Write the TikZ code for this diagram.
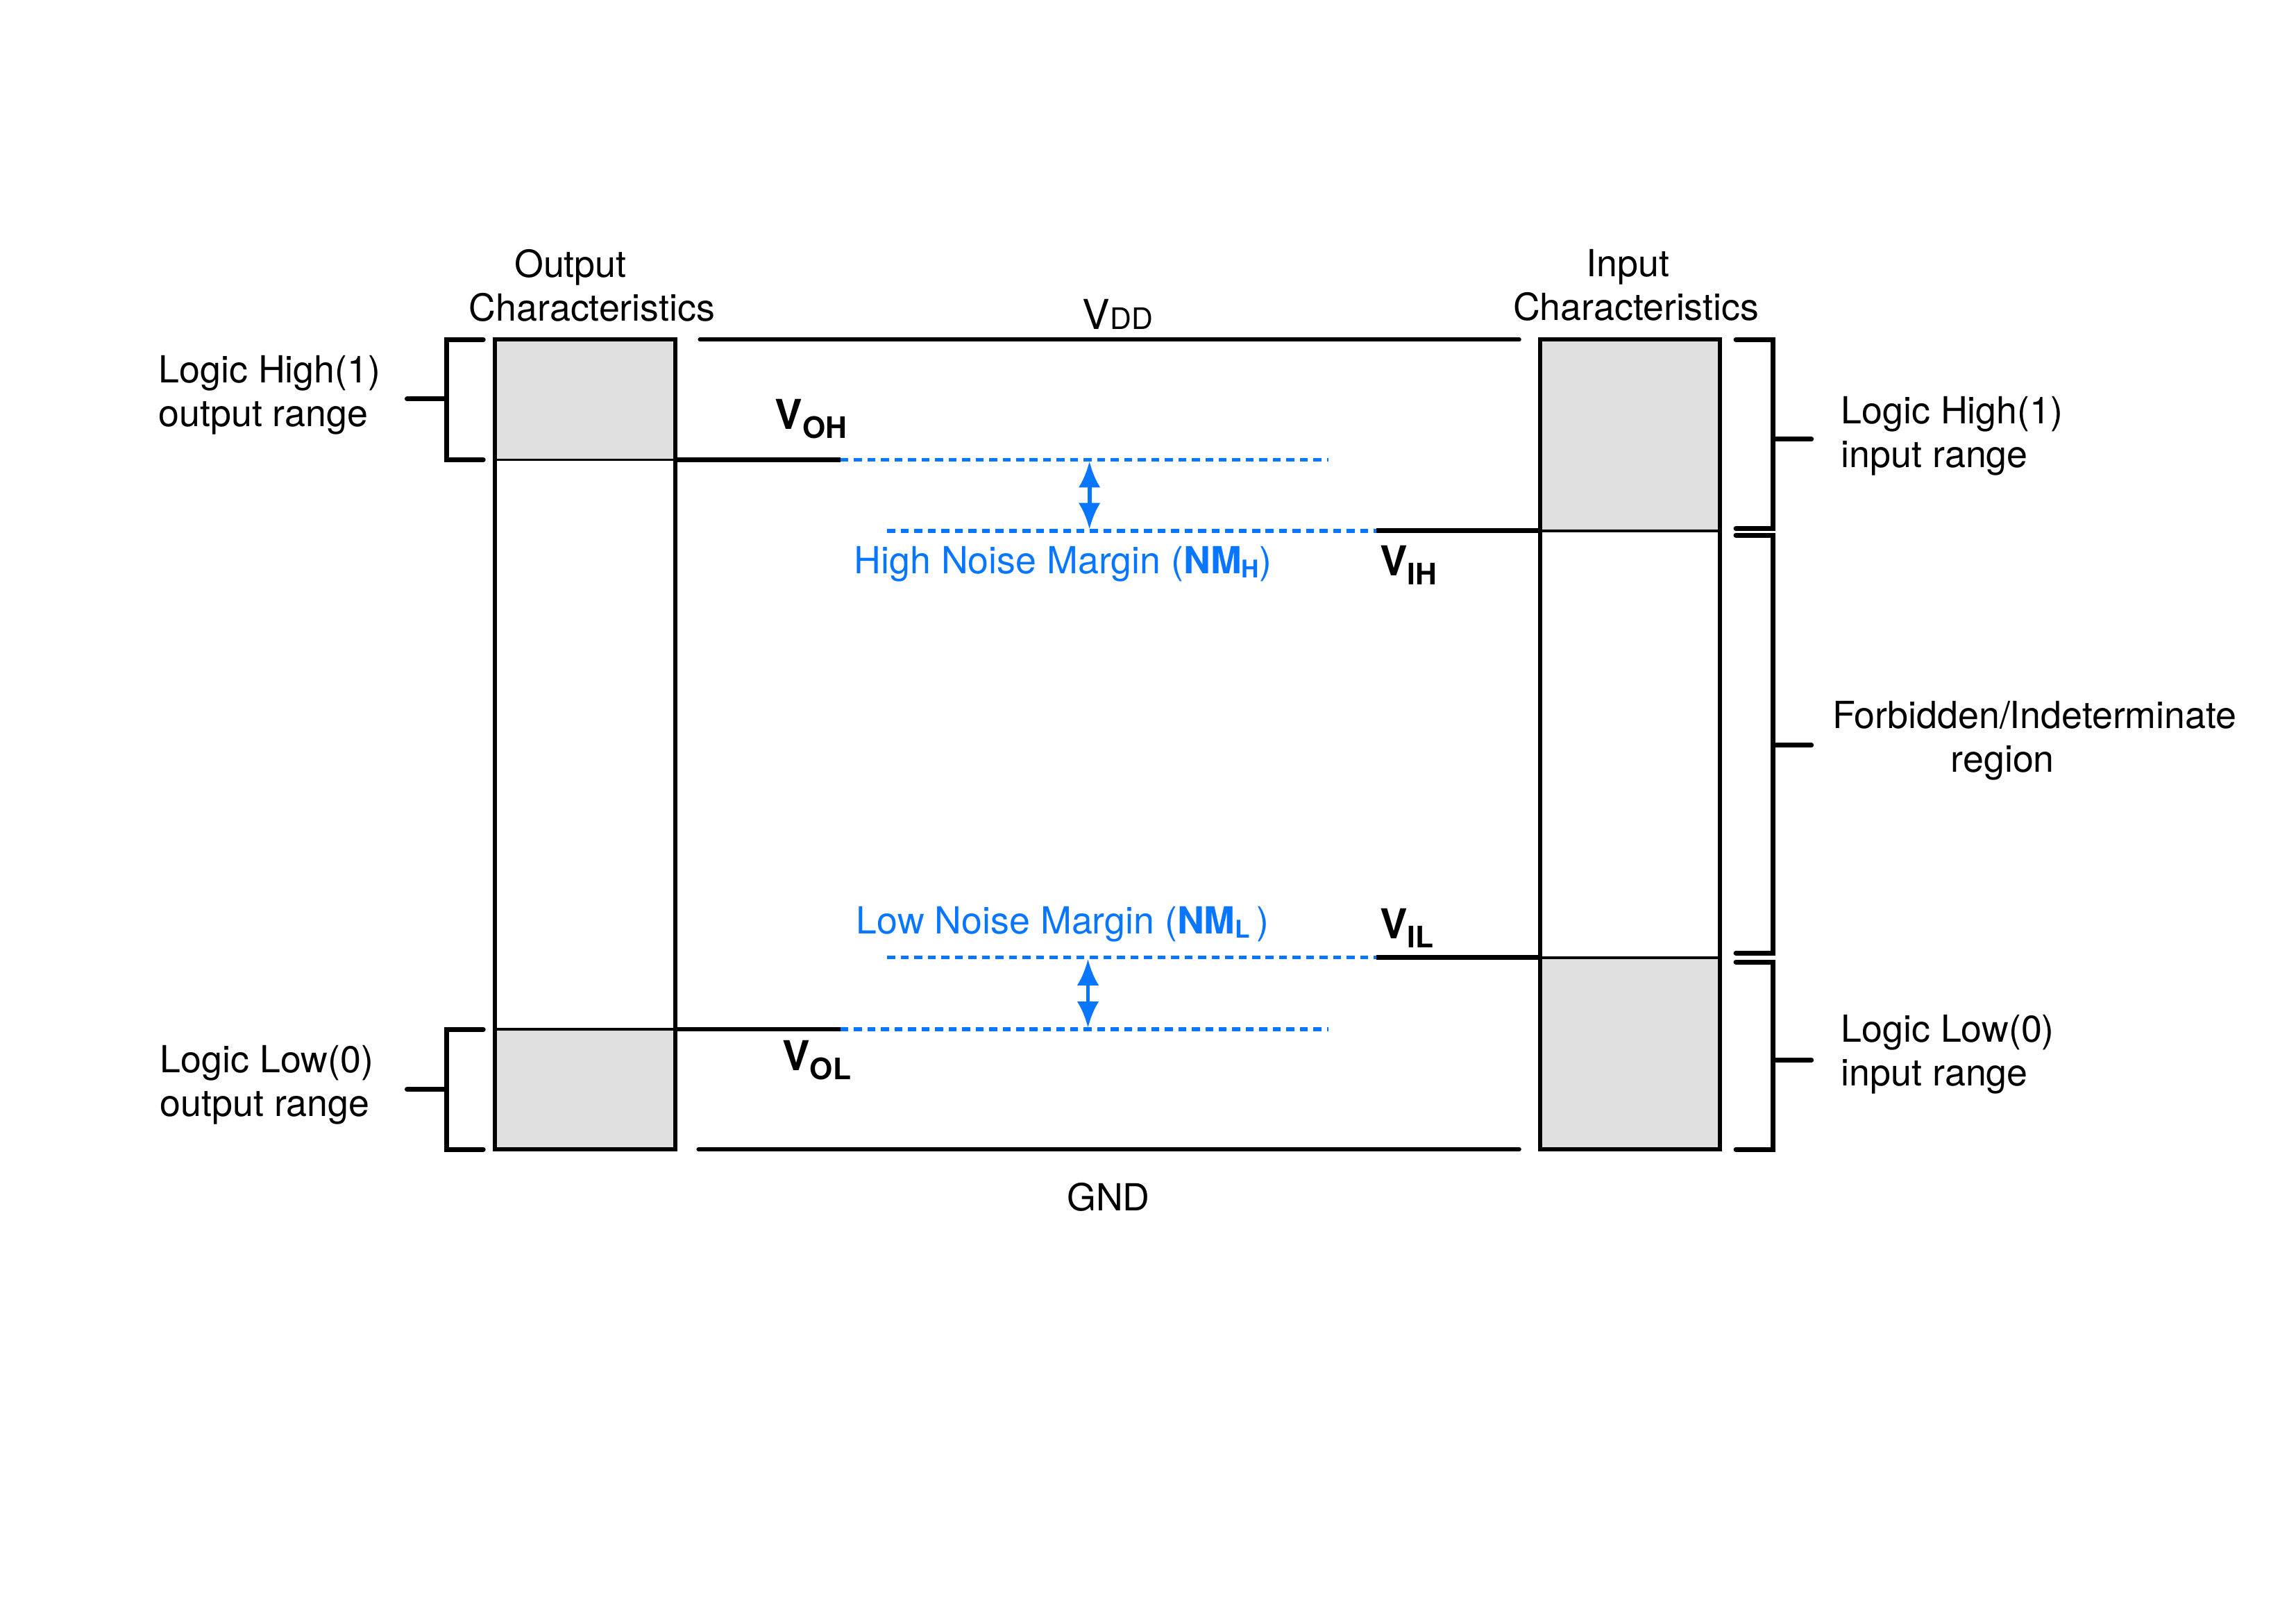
\documentclass[tikz,border=0pt]{standalone}
\usepackage{fontspec}
\setmainfont{TeX Gyre Heros}
\usetikzlibrary{arrows.meta, positioning, calc}
\definecolor{nmblue}{RGB}{8,118,255}
\definecolor{bandgray}{RGB}{224,224,224}
\newcommand{\vlev}[1]{{\fontsize{16}{18}\selectfont\bfseries V}\raisebox{-3.5pt}{\fontsize{11.5}{13}\selectfont\bfseries #1}}
\newcommand{\nmsub}[1]{\textbf{NM}\raisebox{-1.5pt}{\fontsize{9.5}{10}\selectfont\bfseries #1}}

\begin{document}
\begin{tikzpicture}[
  font=\fontsize{14.5}{17}\selectfont,
  box/.style={line width=1.6pt},
  band/.style={fill=bandgray},
  split/.style={line width=1pt},
  rail/.style={line width=1.6pt, line cap=round},
  level/.style={line width=1.8pt},
  margin/.style={nmblue, line width=1.5pt, dash pattern=on 3.1pt off 2.15pt},
  gap/.style={{Latex[length=0.36cm,width=0.3cm]}-{Latex[length=0.36cm,width=0.3cm]},
              nmblue, line width=1.6pt},
  brace/.style={line width=1.9pt, line cap=round},
  side/.style={anchor=west, align=left, inner sep=0pt},
  vlabel/.style={anchor=base west, inner sep=0pt}
]
\useasboundingbox (0,0) rectangle (31.36,22.18);

%% output and input columns
\fill[band] (6.76,17.54) rectangle (9.22,15.90);
\fill[band] (6.76,8.12)  rectangle (9.22,6.48);
\fill[band] (21.04,17.54) rectangle (23.49,14.93);
\fill[band] (21.04,9.10)  rectangle (23.49,6.48);
\draw[split] (6.76,15.90) -- (9.22,15.90);
\draw[split] (6.76,8.12) -- (9.22,8.12);
\draw[split] (21.04,14.93) -- (23.49,14.93);
\draw[split] (21.04,9.10) -- (23.49,9.10);
\draw[box] (6.76,6.48) rectangle (9.22,17.54);
\draw[box] (21.04,6.48) rectangle (23.49,17.54);

\node[side] (outchar) at (6.40,18.28) {\hspace*{0.62cm}Output\\Characteristics};
\node[side] (inchar)  at (20.66,18.28) {\hspace*{1.0cm}Input\\Characteristics};

%% supply rails
\coordinate (vddL) at (9.56,17.54);
\coordinate (vddR) at (20.75,17.54);
\coordinate (gndL) at (9.54,6.48);
\coordinate (gndR) at (20.75,6.48);
\draw[rail] (vddL) -- (vddR);
\draw[rail] (gndL) -- (gndR);
\node[vlabel] (vdd) at (14.78,17.68)
  {{\fontsize{16}{18}\selectfont V}{\fontsize{11.5}{13}\selectfont DD}};
\node[inner sep=0pt, anchor=base] (gnd) at (15.14,5.64) {GND};

%% threshold levels
\coordinate (oh)  at (9.22,15.90);
\coordinate (ohD) at (11.48,15.90);
\coordinate (ohE) at (18.14,15.90);
\coordinate (ihS) at (12.12,14.93);
\coordinate (ihD) at (18.80,14.93);
\coordinate (ih)  at (21.04,14.93);
\coordinate (ilS) at (12.12,9.10);
\coordinate (ilD) at (18.80,9.10);
\coordinate (il)  at (21.04,9.10);
\coordinate (ol)  at (9.22,8.12);
\coordinate (olD) at (11.48,8.12);
\coordinate (olE) at (18.14,8.12);

\draw[level]  (oh) -- (ohD);
\draw[margin] (ohD) -- (ohE);
\draw[margin] (ihS) -- (ihD);
\draw[level]  (ihD) -- (ih);
\draw[margin] (ilS) -- (ilD);
\draw[level]  (ilD) -- (il);
\draw[level]  (ol) -- (olD);
\draw[margin] (olD) -- (olE);

\node[vlabel] (voh) at (10.58,16.32) {\vlev{OH}};
\node[vlabel] (vih) at (18.84,14.32) {\vlev{IH}};
\node[vlabel] (vil) at (18.84,9.36)  {\vlev{IL}};
\node[vlabel] (vol) at (10.68,7.56)  {\vlev{OL}};

%% noise margins
\coordinate (nmhT) at (14.88,15.88);
\coordinate (nmhB) at (14.88,14.95);
\coordinate (nmlT) at (14.86,9.08);
\coordinate (nmlB) at (14.86,8.14);
\draw[gap] (nmhT) -- (nmhB);
\draw[gap] (nmlT) -- (nmlB);
\node[vlabel, text=nmblue] (nmh) at (11.66,14.34) {High Noise Margin (\nmsub{H})};
\node[vlabel, text=nmblue] (nml) at (11.69,9.42)  {Low Noise Margin (\nmsub{L}\,)};

%% range brackets, output side
\draw[brace] (6.60,17.54) -- (6.10,17.54) -- (6.10,15.90) -- (6.60,15.90);
\draw[brace] (6.10,16.73) -- (5.56,16.73);
\draw[brace] (6.60,8.12) -- (6.10,8.12) -- (6.10,6.48) -- (6.60,6.48);
\draw[brace] (6.10,7.30) -- (5.56,7.30);
\node[side] (ohrange) at (2.16,16.78) {Logic High(1)\\output range};
\node[side] (olrange) at (2.18,7.36)  {Logic Low(0)\\output range};

%% range brackets, input side
\draw[brace] (23.71,17.54) -- (24.22,17.54) -- (24.22,14.96) -- (23.71,14.96);
\draw[brace] (24.22,16.18) -- (24.74,16.18);
\draw[brace] (23.71,14.87) -- (24.22,14.87) -- (24.22,9.16) -- (23.71,9.16);
\draw[brace] (24.22,12.00) -- (24.74,12.00);
\draw[brace] (23.71,9.04) -- (24.22,9.04) -- (24.22,6.48) -- (23.71,6.48);
\draw[brace] (24.22,7.70) -- (24.74,7.70);
\node[side] (ihrange) at (25.14,16.22) {Logic High(1)\\input range};
\node[side] (fbrange) at (25.02,12.06) {Forbidden/Indeterminate\\\hspace*{1.62cm}region};
\node[side] (ilrange) at (25.14,7.78)  {Logic Low(0)\\input range};

\end{tikzpicture}
\end{document}
